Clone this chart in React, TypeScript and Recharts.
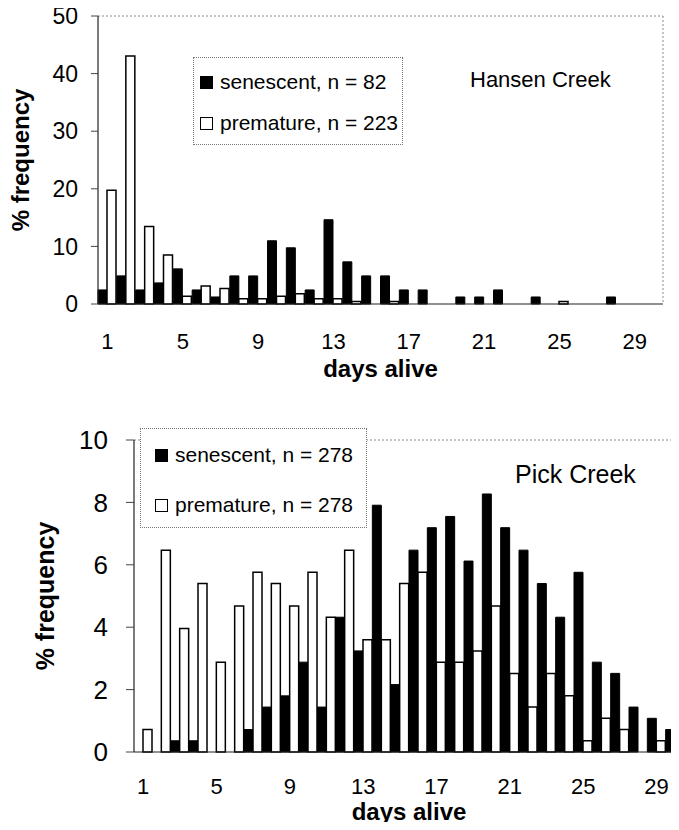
import React from "react";
import { BarChart, Bar, XAxis, YAxis, Legend, CartesianGrid } from "recharts";

const FONT = "'Liberation Sans', Arial, Helvetica, sans-serif";

// days alive (categories)
const days = [
  1, 2, 3, 4, 5, 6, 7, 8, 9, 10, 11, 12, 13, 14, 15,
  16, 17, 18, 19, 20, 21, 22, 23, 24, 25, 26, 27, 28, 29, 30,
];

// Hansen Creek, % frequency
const hansenSenescent = [
  2.44, 4.88, 2.44, 3.66, 6.1, 2.44, 1.22, 4.88, 4.88, 10.98, 9.76, 2.44, 14.63, 7.32, 4.88,
  4.88, 2.44, 2.44, 0, 1.22, 1.22, 2.44, 0, 1.22, 0, 0, 0, 1.22, 0, 0,
];
const hansenPremature = [
  19.73, 43.05, 13.45, 8.52, 1.35, 3.14, 2.69, 0.9, 0.9, 1.35, 1.79, 0.9, 0.9, 0.45, 0,
  0.45, 0, 0, 0, 0, 0, 0, 0, 0, 0.45, 0, 0, 0, 0, 0,
];

// Pick Creek, % frequency
const pickSenescent = [
  0, 0, 0.36, 0.36, 0, 0, 0.72, 1.44, 1.8, 2.88, 1.44, 4.32, 3.24, 7.91, 2.16,
  6.47, 7.19, 7.55, 6.12, 8.27, 7.19, 6.47, 5.4, 4.32, 5.76, 2.88, 2.52, 1.44, 1.08, 0.72,
];
const pickPremature = [
  0.72, 6.47, 3.96, 5.4, 2.88, 4.68, 5.76, 5.4, 4.68, 5.76, 4.32, 6.47, 3.6, 3.6, 5.4,
  5.76, 2.88, 2.88, 3.24, 4.68, 2.52, 1.44, 2.52, 1.8, 0.36, 1.08, 0.72, 0, 0.36, 0,
];

const hansenTicks = [0, 10, 20, 30, 40, 50];
const pickTicks = [0, 2, 4, 6, 8, 10];

const hansenData = days.map((d, i) => ({
  day: d,
  senescent: hansenSenescent[i],
  premature: hansenPremature[i],
}));
const pickData = days.map((d, i) => ({
  day: d,
  senescent: pickSenescent[i],
  premature: pickPremature[i],
}));

// plot area border (top + right edge only, dotted like the Excel frame)
const topEdge = ({ offset }) => [offset.top];
const rightEdge = ({ offset }) => [offset.left + offset.width];

function BoxLegend({ labels, fontSize, padLeft, padTop, rowGap, width, height }) {
  return (
    <div
      style={{
        width,
        height,
        boxSizing: "border-box",
        border: "1px dotted #777",
        background: "#fff",
        paddingLeft: padLeft,
        paddingTop: padTop,
        fontFamily: FONT,
        fontSize,
        color: "#000",
      }}
    >
      {labels.map((l, i) => (
        <div
          key={l}
          style={{
            display: "flex",
            alignItems: "center",
            height: 24,
            marginTop: i === 0 ? 0 : rowGap,
            whiteSpace: "nowrap",
          }}
        >
          <span
            style={{
              display: "inline-block",
              width: 13,
              height: 13,
              boxSizing: "border-box",
              background: i === 0 ? "#000" : "#fff",
              border: "1.5px solid #000",
              marginRight: 7,
            }}
          />
          {l}
        </div>
      ))}
    </div>
  );
}

export default function App() {
  return (
    <div
      style={{
        position: "relative",
        width: 679,
        height: 830,
        margin: -8,
        overflow: "hidden",
        background: "#fff",
        fontFamily: FONT,
      }}
    >
      {/* Hansen Creek */}
      <div style={{ position: "absolute", left: 0, top: 0 }}>
        <BarChart
          width={679}
          height={400}
          data={hansenData}
          margin={{ top: 16, right: 16, bottom: 0, left: 0 }}
          barCategoryGap={0}
          barGap={0}
        >
          <CartesianGrid
            stroke="#8a8a8a"
            strokeDasharray="2 2"
            horizontalCoordinatesGenerator={topEdge}
            verticalCoordinatesGenerator={rightEdge}
          />
          <XAxis
            dataKey="day"
            interval={3}
            tickLine={false}
            tickSize={0}
            tickMargin={29}
            height={96}
            axisLine={{ stroke: "#222", strokeWidth: 1.2 }}
            tick={{ fill: "#000", fontSize: 22, fontFamily: FONT }}
            label={{
              value: "days alive",
              position: "insideBottom",
              offset: 23,
              style: { fill: "#000", fontSize: 24, fontWeight: "bold", fontFamily: FONT },
            }}
          />
          <YAxis
            domain={[0, 50]}
            ticks={hansenTicks}
            width={98}
            tickSize={7}
            tickMargin={13}
            tickLine={{ stroke: "#444" }}
            axisLine={{ stroke: "#222", strokeWidth: 1.2 }}
            tick={{ fill: "#000", fontSize: 23, fontFamily: FONT }}
            label={{
              value: "% frequency",
              angle: -90,
              position: "insideLeft",
              offset: 20,
              style: { textAnchor: "middle", fill: "#000", fontSize: 24, fontWeight: "bold", fontFamily: FONT },
            }}
          />
          <Legend
            layout="vertical"
            align="center"
            verticalAlign="middle"
            wrapperStyle={{ top: 57, left: 193, width: 210, height: 88 }}
            content={() => (
              <BoxLegend
                labels={["senescent, n = 82", "premature, n = 223"]}
                fontSize={21}
                padLeft={6}
                padTop={12}
                rowGap={17}
                width={210}
                height={88}
              />
            )}
          />
          <Bar dataKey="senescent" fill="#000" stroke="#000" strokeWidth={1} isAnimationActive={false} />
          <Bar dataKey="premature" fill="#fff" stroke="#000" strokeWidth={1.5} isAnimationActive={false} />
        </BarChart>
        <div
          style={{
            position: "absolute",
            left: 470,
            top: 69,
            fontSize: 22,
            lineHeight: 1,
            color: "#000",
            whiteSpace: "nowrap",
          }}
        >
          Hansen Creek
        </div>
      </div>

      {/* Pick Creek */}
      <div style={{ position: "absolute", left: 0, top: 400 }}>
        <BarChart
          width={690}
          height={430}
          data={pickData}
          margin={{ top: 40, right: 6, bottom: 0, left: 0 }}
          barCategoryGap={0}
          barGap={0}
        >
          <CartesianGrid
            stroke="#8a8a8a"
            strokeDasharray="2 2"
            horizontalCoordinatesGenerator={topEdge}
            verticalCoordinatesGenerator={rightEdge}
          />
          <XAxis
            dataKey="day"
            interval={3}
            tickLine={false}
            tickSize={0}
            tickMargin={26}
            height={78}
            axisLine={{ stroke: "#222", strokeWidth: 1.2 }}
            tick={{ fill: "#000", fontSize: 22, fontFamily: FONT }}
            label={{
              value: "days alive",
              position: "insideBottom",
              offset: 10,
              style: { fill: "#000", fontSize: 24, fontWeight: "bold", fontFamily: FONT },
            }}
          />
          <YAxis
            domain={[0, 10]}
            ticks={pickTicks}
            width={134}
            tickSize={8}
            tickMargin={18}
            tickLine={{ stroke: "#444" }}
            axisLine={{ stroke: "#222", strokeWidth: 1.2 }}
            tick={{ fill: "#000", fontSize: 26, fontFamily: FONT }}
            label={{
              value: "% frequency",
              angle: -90,
              position: "insideLeft",
              offset: 45,
              style: { textAnchor: "middle", fill: "#000", fontSize: 25, fontWeight: "bold", fontFamily: FONT },
            }}
          />
          <Legend
            layout="vertical"
            align="center"
            verticalAlign="middle"
            wrapperStyle={{ top: 28, left: 140, width: 227, height: 100 }}
            content={() => (
              <BoxLegend
                labels={["senescent, n = 278", "premature, n = 278"]}
                fontSize={21}
                padLeft={14}
                padTop={14}
                rowGap={26}
                width={227}
                height={100}
              />
            )}
          />
          <Bar dataKey="senescent" fill="#000" stroke="#000" strokeWidth={1} isAnimationActive={false} />
          <Bar dataKey="premature" fill="#fff" stroke="#000" strokeWidth={1.5} isAnimationActive={false} />
        </BarChart>
        <div
          style={{
            position: "absolute",
            left: 515,
            top: 62,
            fontSize: 25,
            lineHeight: 1,
            color: "#000",
            whiteSpace: "nowrap",
          }}
        >
          Pick Creek
        </div>
      </div>
    </div>
  );
}
